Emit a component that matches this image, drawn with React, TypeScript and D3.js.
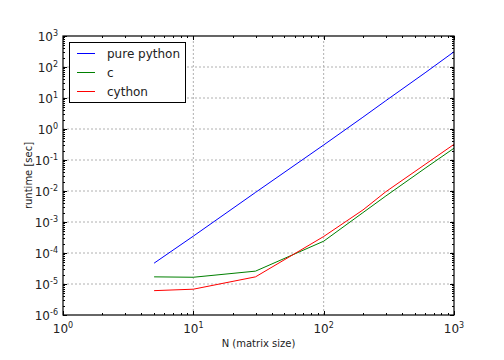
import React from "react";
import * as d3 from "d3";

const sizes = [5, 10, 30, 100, 200, 300, 600, 1000];
const purePython = [4.7e-5, 3.5e-4, 9.0e-3, 0.305, 2.4, 8.2, 65, 310];
const cVals = [1.7e-5, 1.65e-5, 2.6e-5, 2.4e-4, 2.0e-3, 6.9e-3, 0.054, 0.24];
const cythonVals = [6.1e-6, 6.8e-6, 1.7e-5, 3.4e-4, 2.44e-3, 9.5e-3, 0.072, 0.32];

const seriesNames = ["pure python", "c", "cython"];
const seriesColors = ["#0000ff", "#008000", "#ff0000"];
const xExponents = [0, 1, 2, 3];
const yExponents = [-6, -5, -4, -3, -2, -1, 0, 1, 2, 3];

const W = 504;
const H = 360;
const margin = { top: 36, right: 50, bottom: 45, left: 63 };
const FONT = "DejaVu Sans, sans-serif";

export default function App() {
  const ref = React.useRef<SVGSVGElement>(null);

  React.useEffect(() => {
    const svg = d3.select(ref.current);
    svg.selectAll("*").remove();

    const x = d3
      .scaleLog()
      .domain([1, 1000])
      .range([margin.left, W - margin.right]);
    const y = d3
      .scaleLog()
      .domain([1e-6, 1e3])
      .range([H - margin.bottom, margin.top]);

    const [x0, x1] = x.range();
    const [y0, y1] = y.range();

    // grid
    const grid = svg.append("g");
    xExponents.slice(1, -1).forEach((e) => {
      grid
        .append("line")
        .attr("x1", x(10 ** e))
        .attr("x2", x(10 ** e))
        .attr("y1", y0)
        .attr("y2", y1)
        .attr("stroke", "#b0b0b0")
        .attr("stroke-dasharray", "2,2")
        .attr("stroke-width", 1);
    });
    yExponents.slice(1, -1).forEach((e) => {
      grid
        .append("line")
        .attr("x1", x0)
        .attr("x2", x1)
        .attr("y1", y(10 ** e))
        .attr("y2", y(10 ** e))
        .attr("stroke", "#b0b0b0")
        .attr("stroke-dasharray", "2,2")
        .attr("stroke-width", 1);
    });

    // ticks (inward, all four sides)
    const ticks = svg.append("g").attr("stroke", "#000").attr("stroke-width", 1);
    const xMinor: number[] = [];
    for (let e = 0; e < 3; e++) for (let k = 2; k <= 9; k++) xMinor.push(k * 10 ** e);
    const yMinor: number[] = [];
    for (let e = -6; e < 3; e++) for (let k = 2; k <= 9; k++) yMinor.push(k * 10 ** e);

    xExponents.forEach((e) => {
      const px = Math.round(x(10 ** e)) + 0.5;
      ticks.append("line").attr("x1", px).attr("x2", px).attr("y1", y0).attr("y2", y0 - 4);
      ticks.append("line").attr("x1", px).attr("x2", px).attr("y1", y1).attr("y2", y1 + 4);
    });
    xMinor.forEach((v) => {
      const px = Math.round(x(v)) + 0.5;
      ticks.append("line").attr("x1", px).attr("x2", px).attr("y1", y0).attr("y2", y0 - 2);
      ticks.append("line").attr("x1", px).attr("x2", px).attr("y1", y1).attr("y2", y1 + 2);
    });
    yExponents.forEach((e) => {
      const py = Math.round(y(10 ** e)) + 0.5;
      ticks.append("line").attr("x1", x0).attr("x2", x0 + 4).attr("y1", py).attr("y2", py);
      ticks.append("line").attr("x1", x1).attr("x2", x1 - 4).attr("y1", py).attr("y2", py);
    });
    yMinor.forEach((v) => {
      const py = Math.round(y(v)) + 0.5;
      ticks.append("line").attr("x1", x0).attr("x2", x0 + 2).attr("y1", py).attr("y2", py);
      ticks.append("line").attr("x1", x1).attr("x2", x1 - 2).attr("y1", py).attr("y2", py);
    });

    // lines
    const line = d3
      .line<[number, number]>()
      .x((d) => x(d[0]))
      .y((d) => y(d[1]));
    [purePython, cVals, cythonVals].forEach((vals, i) => {
      svg
        .append("path")
        .datum(sizes.map((s, j) => [s, vals[j]] as [number, number]))
        .attr("fill", "none")
        .attr("stroke", seriesColors[i])
        .attr("stroke-width", 1)
        .attr("d", line);
    });

    // frame
    svg
      .append("rect")
      .attr("x", x0)
      .attr("y", y1)
      .attr("width", x1 - x0)
      .attr("height", y0 - y1)
      .attr("fill", "none")
      .attr("stroke", "#000")
      .attr("stroke-width", 1.2);

    // tick labels
    const labels = svg.append("g").attr("font-family", FONT).attr("fill", "#222");
    xExponents.forEach((e) => {
      const t = labels
        .append("text")
        .attr("x", x(10 ** e))
        .attr("y", y0 + 18)
        .attr("text-anchor", "middle")
        .attr("font-size", 12);
      t.append("tspan").text("10");
      t.append("tspan").attr("font-size", 8).attr("dy", -5).text(String(e));
    });
    yExponents.forEach((e) => {
      const t = labels
        .append("text")
        .attr("x", x0 - 5)
        .attr("y", y(10 ** e) + 5)
        .attr("text-anchor", "end")
        .attr("font-size", 12);
      t.append("tspan").text("10");
      t.append("tspan").attr("font-size", 8).attr("dy", -5).text(String(e));
    });

    // axis titles
    svg
      .append("text")
      .attr("x", (x0 + x1) / 2)
      .attr("y", 347)
      .attr("text-anchor", "middle")
      .attr("font-family", FONT)
      .attr("font-size", 10)
      .attr("fill", "#222")
      .text("N (matrix size)");
    svg
      .append("text")
      .attr("transform", `translate(32,${(y0 + y1) / 2}) rotate(-90)`)
      .attr("text-anchor", "middle")
      .attr("font-family", FONT)
      .attr("font-size", 10)
      .attr("fill", "#222")
      .text("runtime [sec]");

    // legend
    const lg = svg.append("g");
    lg.append("rect")
      .attr("x", 69.5)
      .attr("y", 42.5)
      .attr("width", 116)
      .attr("height", 60)
      .attr("fill", "#fff")
      .attr("stroke", "#000")
      .attr("stroke-width", 1);
    seriesNames.forEach((name, i) => {
      const ly = 53.5 + i * 19;
      lg.append("line")
        .attr("x1", 77)
        .attr("x2", 95)
        .attr("y1", ly)
        .attr("y2", ly)
        .attr("stroke", seriesColors[i])
        .attr("stroke-width", 1);
      lg.append("text")
        .attr("x", 107)
        .attr("y", ly + 4.5)
        .attr("font-family", FONT)
        .attr("font-size", 12)
        .attr("fill", "#222")
        .text(name);
    });
  }, []);

  return (
    <svg
      ref={ref}
      width={W}
      height={H}
      style={{ position: "absolute", left: 0, top: 0, background: "#fff" }}
    />
  );
}
